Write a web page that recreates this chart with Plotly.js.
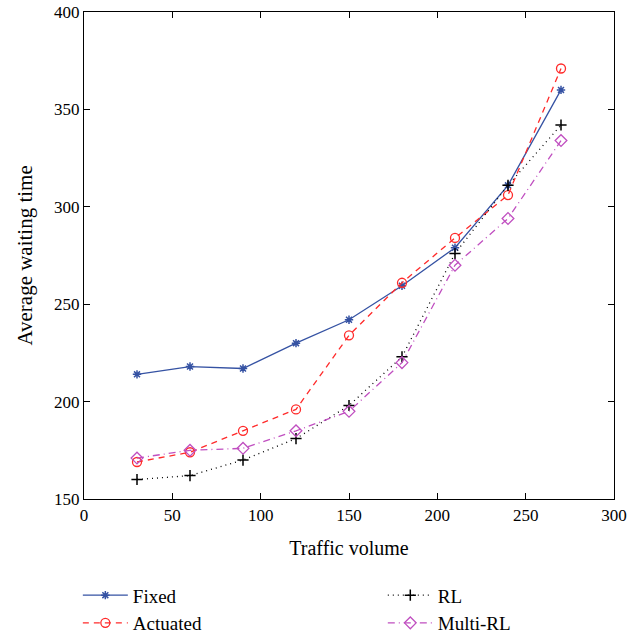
<!DOCTYPE html>
<html>
<head>
<meta charset="utf-8">
<script src="https://cdn.plot.ly/plotly-3.0.1.min.js"></script>
<style>html,body{margin:0;padding:0;background:#fff}#chart{width:638px;height:634px}</style>
</head>
<body>
<div id="chart"></div>
<script>
const trafficVolume = [30, 60, 90, 120, 150, 180, 210, 240, 270];
const fixedWait    = [214, 218, 217, 230, 242, 259.5, 279, 311, 360];
const actuatedWait = [169, 174, 185, 196, 234, 261, 284, 306, 371];
const rlWait       = [160, 162, 170, 181, 198, 223, 276, 311, 342];
const multiRlWait  = [171, 175, 176, 185, 195, 220, 270, 294, 334];
const xTicks = [0, 50, 100, 150, 200, 250, 300];
const yTicks = [150, 200, 250, 300, 350, 400];
const xTitle = "Traffic volume";
const yTitle = "Average waiting time";

const serif = "Liberation Serif, DejaVu Serif, serif";

const traces = [
  {name: "Fixed", x: trafficVolume, y: fixedWait, mode: "lines+markers", legend: "legend",
   line: {color: "#3552a3", width: 1.3, dash: "solid"},
   marker: {symbol: "asterisk-open", size: 7, color: "#3552a3", line: {color: "#3552a3", width: 1.5}}},
  {name: "Actuated", x: trafficVolume, y: actuatedWait, mode: "lines+markers", legend: "legend",
   line: {color: "#ff2a2a", width: 1.3, dash: "6px,5px"},
   marker: {symbol: "circle-open", size: 9, color: "#ff2a2a", line: {color: "#ff2a2a", width: 1.3}}},
  {name: "RL", x: trafficVolume, y: rlWait, mode: "lines+markers", legend: "legend2",
   line: {color: "#000000", width: 1.3, dash: "1px,4px"},
   marker: {symbol: "cross-thin-open", size: 8, color: "#000000", line: {color: "#000000", width: 1.5}}},
  {name: "Multi-RL", x: trafficVolume, y: multiRlWait, mode: "lines+markers", legend: "legend2",
   line: {color: "#c04fc0", width: 1.3, dash: "7px,4px,1px,4px"},
   marker: {symbol: "diamond-open", size: 9, color: "#c04fc0", line: {color: "#c04fc0", width: 1.3}}}
];

const axisCommon = {
  showgrid: false, zeroline: false, showline: true, mirror: "ticks",
  linecolor: "#000", linewidth: 1.2, ticks: "inside", ticklen: 6, tickcolor: "#000", tickwidth: 1,
  tickfont: {family: serif, size: 17, color: "#000"}
};

const legendCommon = {
  orientation: "v", xref: "container", yref: "container",
  xanchor: "left", y: 0.091, yanchor: "top",
  font: {family: serif, size: 19, color: "#000"},
  bgcolor: "rgba(0,0,0,0)", tracegroupgap: 0, itemwidth: 45
};

const layout = {
  width: 638, height: 634,
  margin: {l: 84, r: 24, t: 12, b: 135, autoexpand: false},
  paper_bgcolor: "#fff", plot_bgcolor: "#fff",
  font: {family: serif, color: "#000"},
  xaxis: Object.assign({}, axisCommon, {
    range: [0, 300], tickvals: xTicks, ticktext: xTicks.map(String),
    title: {text: xTitle, font: {family: serif, size: 20, color: "#000"}, standoff: 17}
  }),
  yaxis: Object.assign({}, axisCommon, {
    range: [150, 400], tickvals: yTicks, ticktext: yTicks.map(String)
  }),
  annotations: [{
    text: yTitle, xref: "paper", yref: "paper", x: -0.113, y: 0.5,
    xanchor: "center", yanchor: "middle", textangle: -90, showarrow: false,
    font: {family: serif, size: 21, color: "#000"}
  }],
  showlegend: true,
  legend: Object.assign({}, legendCommon, {x: 0.122}),
  legend2: Object.assign({}, legendCommon, {x: 0.6})
};

Plotly.newPlot("chart", traces, layout, {displayModeBar: false, staticPlot: true});
</script>
</body>
</html>
